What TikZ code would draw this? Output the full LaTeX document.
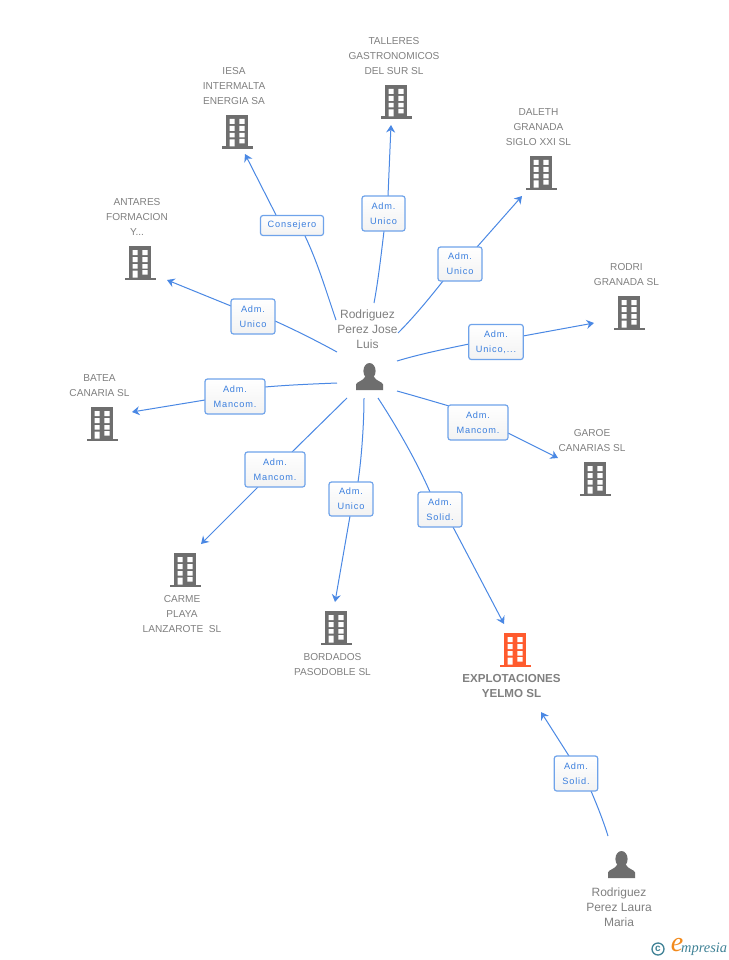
\documentclass[tikz,border=0pt]{standalone}
\usepackage{graphicx}
\usepackage{fontspec}
\setmainfont{Liberation Sans}
\newfontfamily\labfont[LetterSpace=9]{Liberation Sans}
\newfontfamily\logofont{Liberation Serif}
\usetikzlibrary{arrows.meta}
\definecolor{linkblue}{HTML}{4A88E4}
\definecolor{boxblue}{HTML}{6FA3EA}
\definecolor{labblue}{HTML}{3B7FDE}
\definecolor{iconE}{HTML}{6E6E6E}
\definecolor{nameG}{HTML}{808080}
\definecolor{hot}{HTML}{FF5B2E}
\definecolor{teal}{HTML}{3F8296}
\definecolor{orng}{HTML}{F28A1C}
\tikzset{
  link/.style={draw=linkblue,line width=1pt},
  arr/.style={link,-{Stealth[length=7.5pt,width=9pt,inset=2.5pt]}},
  lab/.style={draw=boxblue,line width=1.2pt,rounded corners=2.5pt,top color=white,bottom color=white!95!black,
    text=labblue,align=center,inner sep=0pt,font=\fontsize{9.2}{15}\selectfont\labfont},
  cname/.style={text=nameG,align=center,inner sep=0pt,font=\fontsize{10.1}{15}\selectfont},
  pname/.style={text=nameG,align=center,inner sep=0pt,font=\fontsize{12}{15}\selectfont},
  bname/.style={text=nameG,align=center,inner sep=0pt,font=\fontsize{11.6}{15}\selectfont\bfseries},
  pics/bld/.style={code={
    \fill[#1] (-11,0) rectangle (11,31.5);
    \fill[#1] (-15.5,31.5) rectangle (15.5,33.8);
    \fill[white] (-7.5,4) rectangle (-2.3,9) (2.3,4) rectangle (7.5,9)
                 (-7.5,11) rectangle (-2.3,16) (2.3,11) rectangle (7.5,16)
                 (-7.5,18) rectangle (-2.3,22.5) (2.3,18) rectangle (7.5,22.5)
                 (-7.5,24.5) rectangle (-2.3,31.5) (2.3,24) rectangle (7.5,28.5);
  }},
  pics/pers/.style={code={
    \fill[iconE] (0,8) ellipse (6.1 and 8);
    \fill[iconE] (-13.5,27) -- (-13.5,21.5) .. controls (-13,18.5) and (-6.5,18.5) .. (-3.8,13) -- (3.8,13) .. controls (6.5,18.5) and (13,18.5) .. (13.5,21.5) -- (13.5,27) -- cycle;
  }}
}
\begin{document}
\begin{tikzpicture}[x=1pt,y=-1pt]
\useasboundingbox[fill=white] (0,0) rectangle (728,960);
% icons
\pic at (237,115) {bld=iconE};
\pic at (396,85) {bld=iconE};
\pic at (541,156) {bld=iconE};
\pic at (140,246) {bld=iconE};
\pic at (629,296) {bld=iconE};
\pic at (102,407) {bld=iconE};
\pic at (595,462) {bld=iconE};
\pic at (185,553) {bld=iconE};
\pic at (336,611) {bld=iconE};
\pic at (515,633) {bld=hot};
\pic at (369.5,363) {pers};
\pic at (621.5,851) {pers};
% names
\node[cname] (nIesa) at (234,86) {IESA\\INTERMALTA\\ENERGIA SA};
\node[cname] (nTall) at (394,56) {TALLERES\\GASTRONOMICOS\\DEL SUR SL};
\node[cname] (nDal) at (538.5,127) {DALETH\\GRANADA\\SIGLO XXI SL};
\node[cname] (nAnt) at (137,217) {ANTARES\\FORMACION\\Y...};
\node[cname] (nRod) at (626.5,274.5) {RODRI\\GRANADA SL};
\node[cname] (nBat) at (99.5,385.5) {BATEA\\CANARIA SL};
\node[cname] (nGar) at (592,440.5) {GAROE\\CANARIAS SL};
\node[cname] (nCar) at (182,614) {CARME\\PLAYA\\LANZAROTE\ \ SL};
\node[cname] (nBor) at (332.5,664.5) {BORDADOS\\PASODOBLE SL};
\node[bname] (nExp) at (511.5,685.5) {EXPLOTACIONES\\YELMO SL};
\node[pname] (nJose) at (367.5,329) {Rodriguez\\Perez Jose\\Luis};
\node[pname] (nLaura) at (619,907) {Rodriguez\\Perez Laura\\Maria};
% connector ends
\coordinate (s1) at (336,320); \coordinate (e1) at (245,154);
\coordinate (s2) at (374,303); \coordinate (e2) at (391,125);
\coordinate (s3) at (398,333); \coordinate (e3) at (522,196);
\coordinate (s4) at (397,361); \coordinate (e4) at (594,323);
\coordinate (s5) at (397,391); \coordinate (e5) at (558,458);
\coordinate (s6) at (378,398); \coordinate (e6) at (504,624);
\coordinate (s7) at (364,398); \coordinate (e7) at (335,602);
\coordinate (s8) at (347,398); \coordinate (e8) at (201,544);
\coordinate (s9) at (337,383); \coordinate (e9) at (132,412);
\coordinate (s10) at (337,352); \coordinate (e10) at (167,280);
\coordinate (s11) at (608,836); \coordinate (e11) at (541,712);
% link segments (under labels)
\coordinate (a1) at (305,236); \coordinate (b1) at (276,215);
\coordinate (a2) at (384,231); \coordinate (b2) at (388,196);
\coordinate (a3) at (443,281); \coordinate (b3) at (477,247);
\coordinate (a4) at (469,344); \coordinate (b4) at (523,336);
\coordinate (a5) at (449,406); \coordinate (b5) at (508,433);
\coordinate (a6) at (430,492); \coordinate (b6) at (453,527);
\coordinate (a7) at (358,482); \coordinate (b7) at (350,516);
\coordinate (a8) at (292,452); \coordinate (b8) at (258,487);
\coordinate (a9) at (265,387); \coordinate (b9) at (205,400);
\coordinate (a10) at (275,321); \coordinate (b10) at (231,306);
\coordinate (a11) at (591,791); \coordinate (b11) at (569,756);
\draw[link] (s1) .. controls (328,297) and (318,263) .. (a1);
\draw[arr] (b1) -- (e1);
\draw[link] (s2) .. controls (378,282) and (381,256) .. (a2);
\draw[arr] (b2) -- (e2);
\draw[link] (s3) .. controls (413,318) and (428,300) .. (a3);
\draw[arr] (b3) -- (e3);
\draw[link] (s4) .. controls (420,354) and (445,349) .. (a4);
\draw[arr] (b4) -- (e4);
\draw[link] (s5) .. controls (415,396) and (432,401) .. (a5);
\draw[arr] (b5) -- (e5);
\draw[link] (s6) .. controls (395,424) and (415,458) .. (a6);
\draw[arr] (b6) -- (e6);
\draw[link] (s7) .. controls (364,420) and (362,455) .. (a7);
\draw[arr] (b7) -- (e7);
\draw[link] (s8) -- (a8);
\draw[arr] (b8) -- (e8);
\draw[link] (s9) .. controls (312,384) and (288,385) .. (a9);
\draw[arr] (b9) -- (e9);
\draw[link] (s10) .. controls (315,340) and (295,330) .. (a10);
\draw[arr] (b10) -- (e10);
\draw[link] (s11) .. controls (603,820) and (597,805) .. (a11);
\draw[arr] (b11) -- (e11);
% labels
\node[lab,minimum width=63pt,minimum height=20pt] (l1) at (292,225.5) {Consejero};
\node[lab,minimum width=43pt,minimum height=35pt] (l2) at (383.5,213.5) {Adm.\\Unico};
\node[lab,minimum width=44pt,minimum height=34pt] (l3) at (460,264) {Adm.\\Unico};
\node[lab,minimum width=54.5pt,minimum height=35pt] (l4) at (496,342) {Adm.\\Unico,...};
\node[lab,minimum width=60pt,minimum height=35pt] (l5) at (478,422.5) {Adm.\\Mancom.};
\node[lab,minimum width=44pt,minimum height=35pt] (l6) at (440,509.5) {Adm.\\Solid.};
\node[lab,minimum width=44pt,minimum height=34pt] (l7) at (351,499) {Adm.\\Unico};
\node[lab,minimum width=60pt,minimum height=35pt] (l8) at (275,469.5) {Adm.\\Mancom.};
\node[lab,minimum width=60pt,minimum height=35pt] (l9) at (235,396.5) {Adm.\\Mancom.};
\node[lab,minimum width=44pt,minimum height=35pt] (l10) at (253,316.5) {Adm.\\Unico};
\node[lab,minimum width=43.5pt,minimum height=35pt] (l11) at (576,773.5) {Adm.\\Solid.};
% logo
\draw[teal,line width=1.3pt] (658,949) circle (6);
\node[text=teal,inner sep=0pt,font=\fontsize{10}{10}\selectfont\bfseries] (logoC) at (658,948.6) {c};
\node[text=orng,inner sep=0pt,font=\fontsize{28}{28}\selectfont\logofont\itshape] (logoE) at (677,945.5) {e};
\node[text=teal,inner sep=0pt,anchor=west,font=\fontsize{14.4}{15}\selectfont\logofont\itshape] (logoT) at (681,949.5) {mpresia};
\end{tikzpicture}
\end{document}
